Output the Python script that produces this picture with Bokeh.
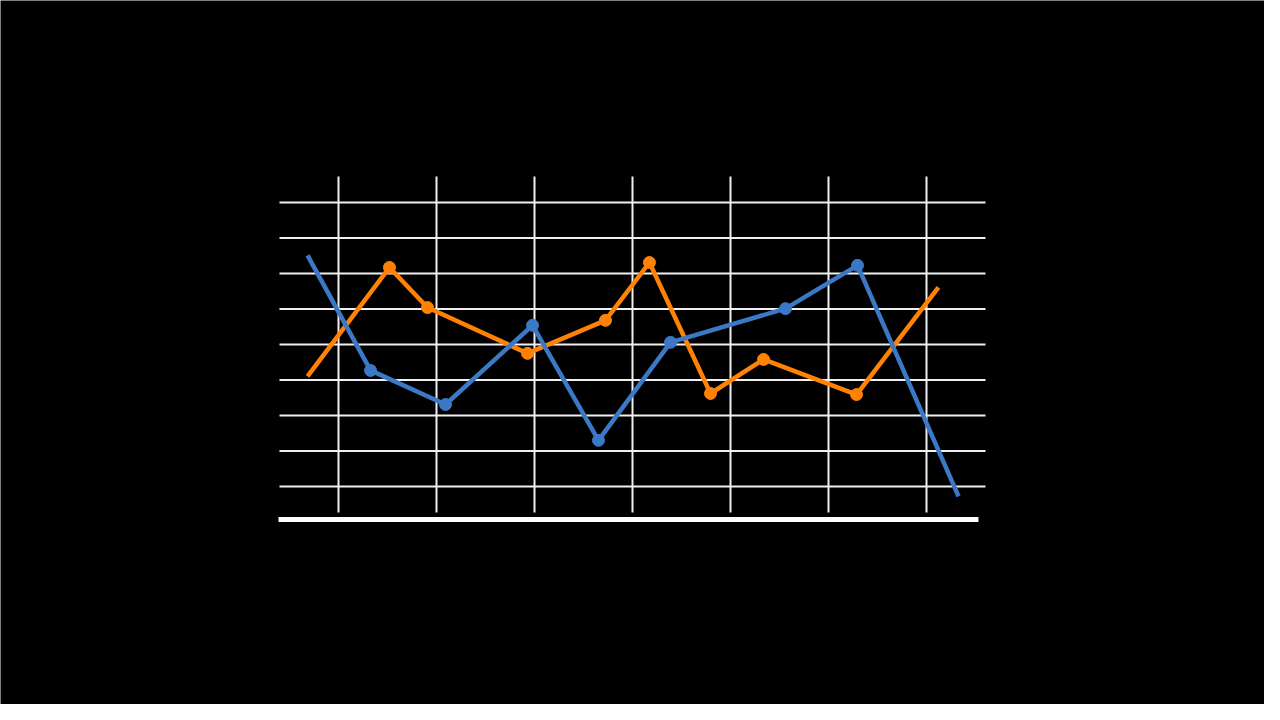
from bokeh.plotting import figure
from bokeh.models import Range1d
from bokeh.embed import file_html
from bokeh.resources import INLINE

# Data
blue_x = [0.684, 1.327, 2.092, 2.980, 3.653, 4.388, 5.561, 6.296, 7.327]
blue_y = [6.51, 3.27, 2.31, 4.54, 1.30, 4.06, 5.01, 6.23, -0.28]
orange_x = [0.684, 1.520, 1.908, 2.929, 3.724, 4.173, 4.796, 5.337, 6.286, 7.122]
orange_y = [3.10, 6.17, 5.04, 3.75, 4.68, 6.31, 2.62, 3.58, 2.59, 5.61]

x_ticks = [1, 2, 3, 4, 5, 6, 7]
y_ticks = [0, 1, 2, 3, 4, 5, 6, 7, 8]
grid_x_extent = (0.398, 7.602)
grid_y_extent = (-0.732, 8.73)
base_y = -0.93
base_x_extent = (0.388, 7.53)

BLUE = "#3B78C6"
ORANGE = "#FF8205"

p = figure(width=1264, height=704, output_backend="svg", toolbar_location=None,
           x_axis_location=None, y_axis_location=None,
           x_range=Range1d(-2.449, 10.449), y_range=Range1d(-6.141, 13.690),
           min_border=0, background_fill_color="black", border_fill_color="black")
p.outline_line_color = None
p.xgrid.visible = False
p.ygrid.visible = False

# grid lines
p.segment(x0=[grid_x_extent[0]] * len(y_ticks), x1=[grid_x_extent[1]] * len(y_ticks),
          y0=y_ticks, y1=y_ticks, line_color="#F0F0F0", line_width=2)
p.segment(x0=x_ticks, x1=x_ticks, y0=[grid_y_extent[0]] * len(x_ticks),
          y1=[grid_y_extent[1]] * len(x_ticks), line_color="#F0F0F0", line_width=2)
# baseline
p.segment(x0=[base_x_extent[0]], x1=[base_x_extent[1]], y0=[base_y], y1=[base_y],
          line_color="white", line_width=5)

# series
p.line(orange_x, orange_y, line_color=ORANGE, line_width=4.5)
p.scatter(orange_x[1:-1], orange_y[1:-1], size=12, fill_color=ORANGE, line_color=ORANGE)
p.line(blue_x, blue_y, line_color=BLUE, line_width=4.5)
p.scatter(blue_x[1:-1], blue_y[1:-1], size=12, fill_color=BLUE, line_color=BLUE)

open("out.html", "w").write(file_html(p, INLINE))
